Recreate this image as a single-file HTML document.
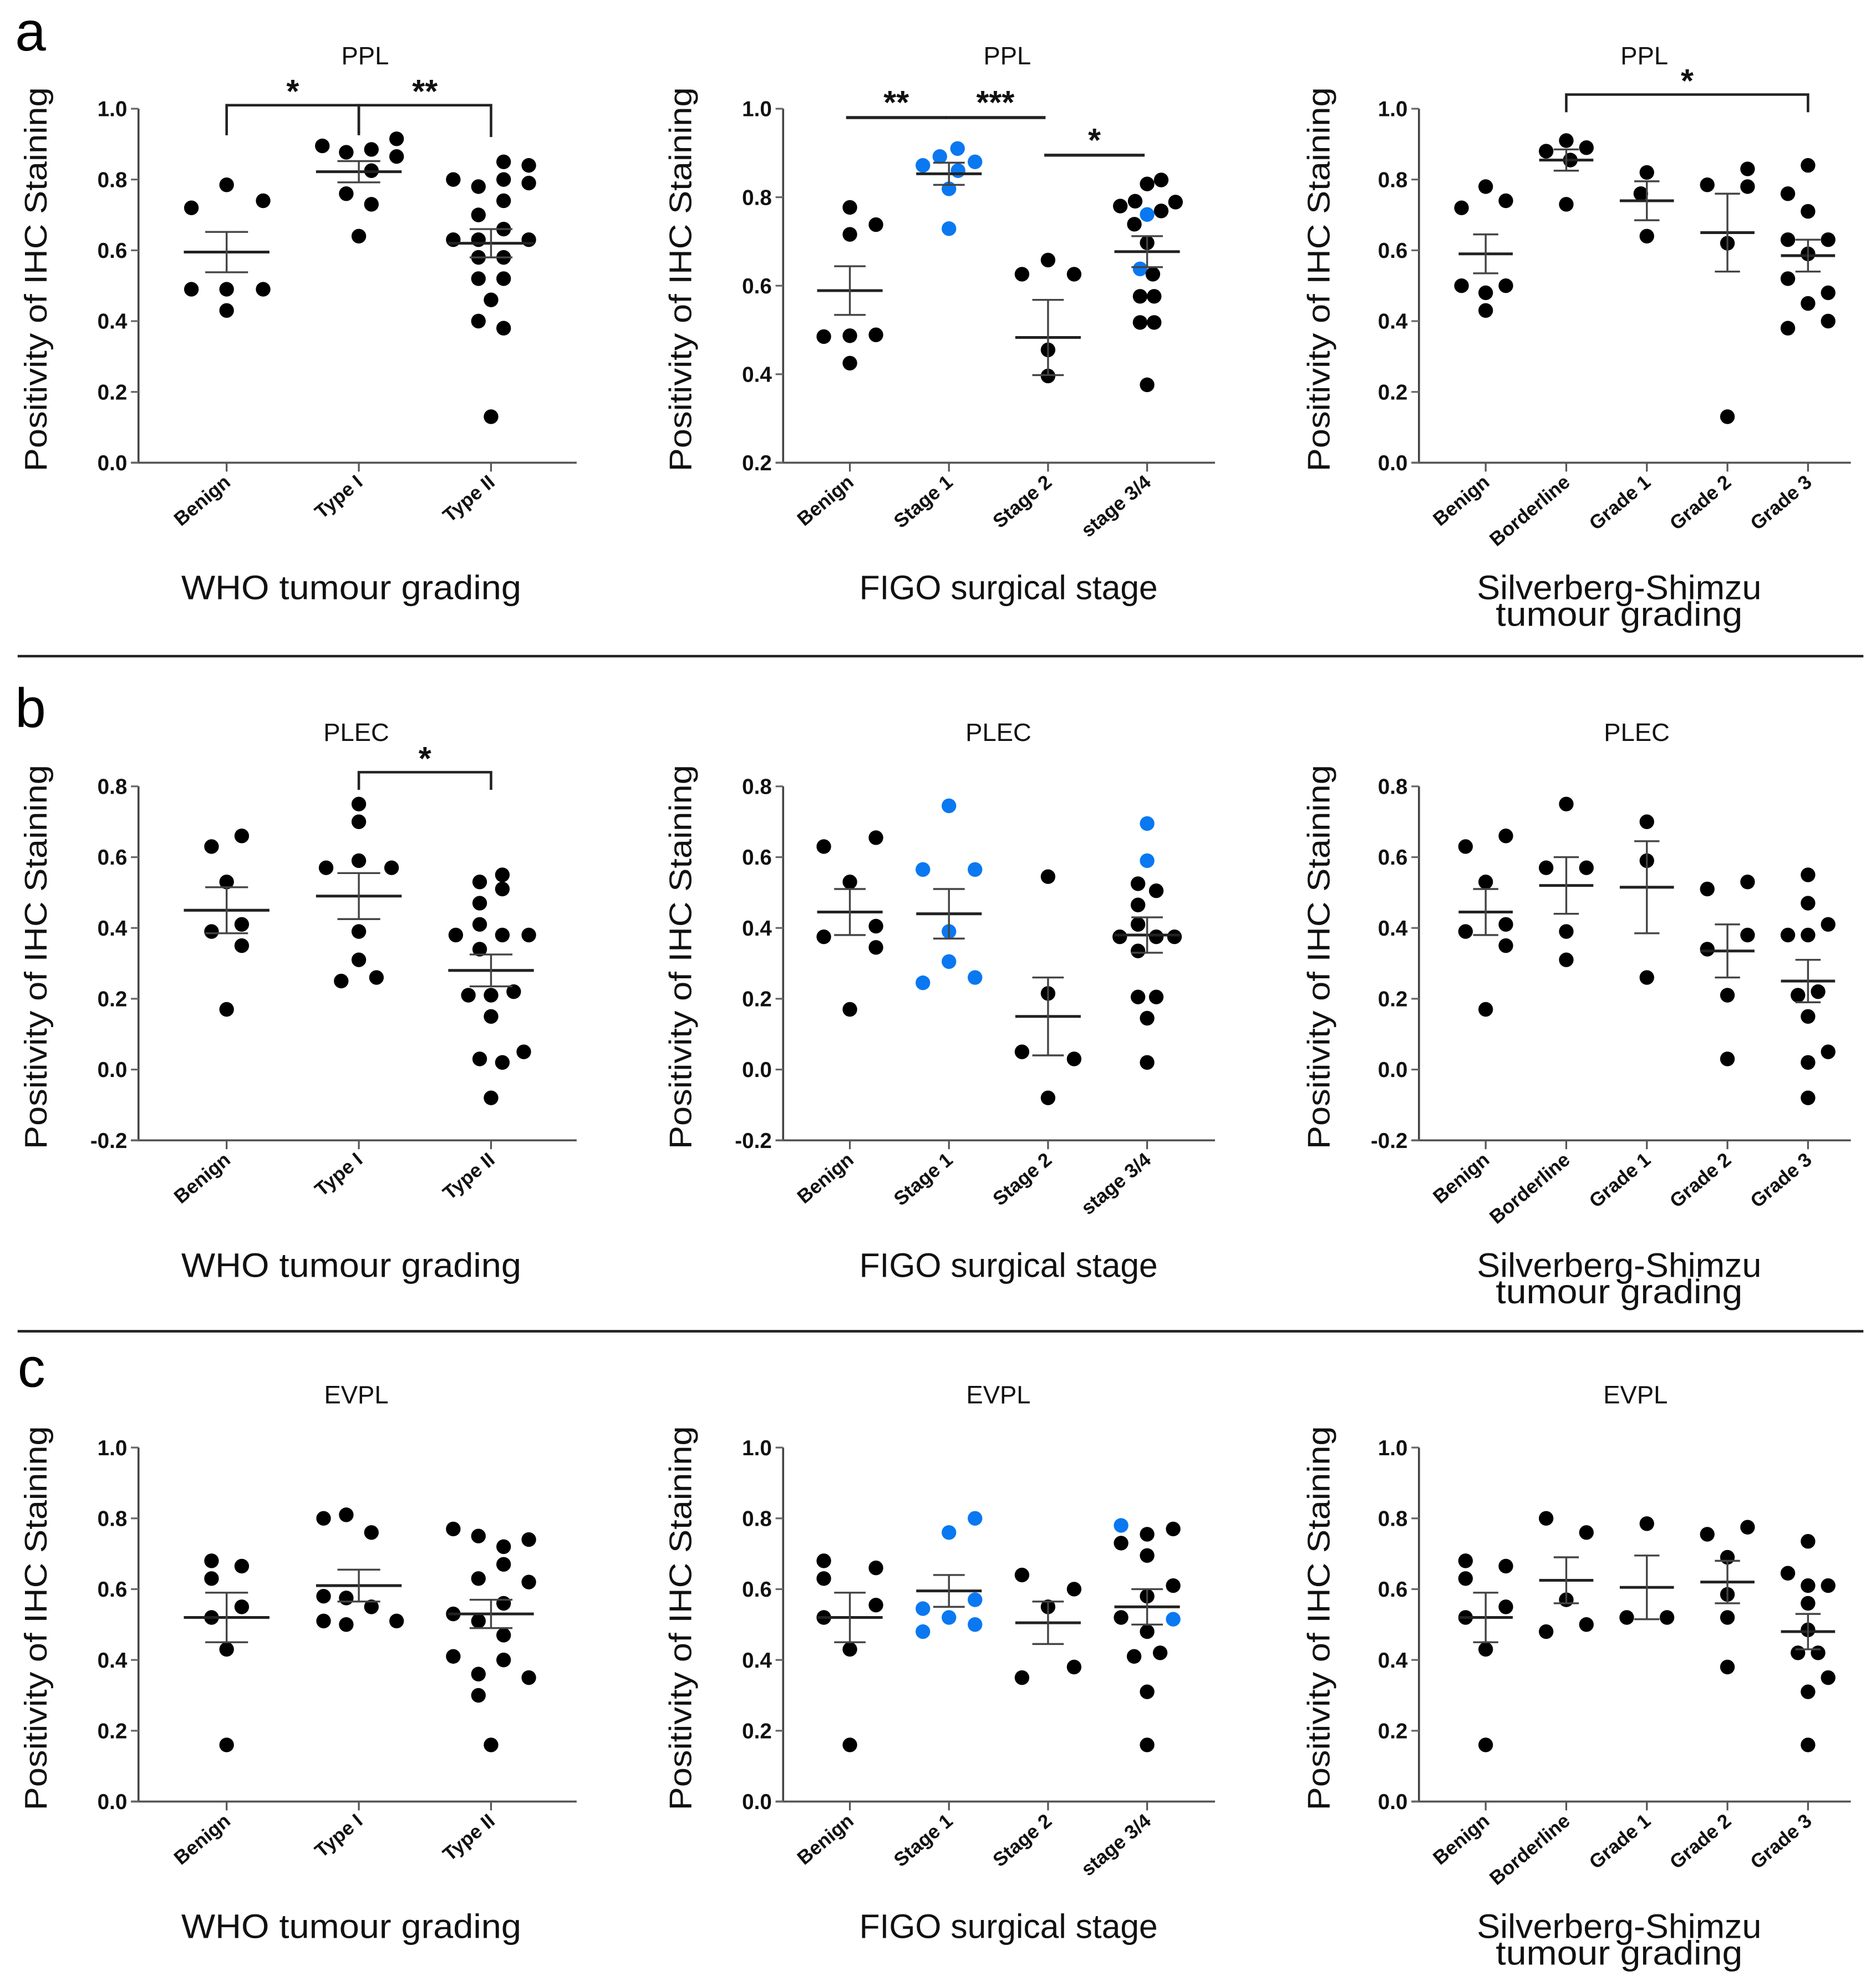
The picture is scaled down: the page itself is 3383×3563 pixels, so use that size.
<!DOCTYPE html>
<html><head><meta charset="utf-8"><style>
html,body{margin:0;padding:0;background:#fff;}
svg{display:block;}
text{font-family:"Liberation Sans",sans-serif;}
</style></head><body>
<svg id="fig" width="3383" height="3563" viewBox="0 0 1490 1563" preserveAspectRatio="none" xmlns="http://www.w3.org/2000/svg">
<rect width="1490" height="1563" fill="#fff"/>
<text x="12" y="40" font-size="44">a</text>
<text x="12" y="575" font-size="44">b</text>
<text x="14" y="1097" font-size="44">c</text>
<line x1="14" y1="519" x2="1480" y2="519" stroke="#222" stroke-width="2"/>
<line x1="14" y1="1053" x2="1480" y2="1053" stroke="#222" stroke-width="2"/>
<g id="plots"></g>
</svg>
<script>
const catWHO=["Benign","Type I","Type II"];
const catFIGO=["Benign","Stage 1","Stage 2","stage 3/4"];
const catSS=["Benign","Borderline","Grade 1","Grade 2","Grade 3"];
const ticks01=[0.0,0.2,0.4,0.6,0.8,1.0];
const ticks21=[0.2,0.4,0.6,0.8,1.0];
const ticksM8=[-0.2,0.0,0.2,0.4,0.6,0.8];

// Row a: PPL
const a1Vals=[[0.72,0.785,0.74,0.49,0.49,0.49,0.43],[0.895,0.877,0.885,0.915,0.865,0.825,0.76,0.73,0.64],[0.80,0.78,0.80,0.79,0.85,0.84,0.74,0.70,0.66,0.63,0.63,0.63,0.58,0.58,0.52,0.52,0.46,0.40,0.38,0.13]];
const a1Slots=[[-1.4,0,1.45,-1.4,0,1.45,0],[-1.45,-0.5,0.5,1.5,1.5,0.5,-0.5,0.5,0],[-1.5,-0.5,0.5,1.5,0.5,1.5,0.5,-0.5,0.5,-1.5,-0.5,1.5,-0.5,0.5,-0.5,0.5,0,-0.5,0.5,0]];
const a1Mean=[0.595,0.822,0.62];
const a1Sem=[0.057,0.03,0.04];
const a2Vals=[[0.777,0.738,0.716,0.485,0.487,0.489,0.425],[0.91,0.892,0.872,0.88,0.86,0.819,0.729],[0.658,0.626,0.626,0.455,0.396],[0.839,0.83,0.791,0.789,0.78,0.769,0.761,0.739,0.697,0.638,0.626,0.576,0.576,0.517,0.517,0.376]];
const a2Slots=[[0,1,0,-1,0,1,0],[0.33,-0.35,-1,1,0.35,0,0],[0,-1,1,0,0],[0.54,0,-0.46,1.09,-1.03,0.54,0,-0.49,0,-0.27,0.22,-0.27,0.27,-0.27,0.27,0]];
const a2Blue=[[],[1,1,1,1,1,1,1],[],[0,0,0,0,0,0,1,0,0,1,0,0,0,0,0,0]];
const a2Mean=[0.589,0.853,0.483,0.677];
const a2Sem=[0.055,0.025,0.085,0.035];
const a3Vals=[[0.72,0.78,0.74,0.50,0.48,0.50,0.43],[0.88,0.91,0.89,0.855,0.73],[0.82,0.76,0.64],[0.785,0.83,0.78,0.62,0.13],[0.84,0.76,0.71,0.63,0.63,0.59,0.52,0.48,0.45,0.40,0.38]];
const a3Slots=[[-1.2,0,1,-1.2,0,1,0],[-1,0,1,0.2,0],[0,-0.3,0],[-1,1,1,0,0],[0,-1,0,-1,1,0,-1,1,0,1,-1]];
const a3Mean=[0.59,0.855,0.74,0.65,0.585];
const a3Sem=[0.055,0.03,0.055,0.11,0.045];

// Row b: PLEC
const b1Vals=[[0.63,0.66,0.53,0.41,0.39,0.35,0.17],[0.75,0.70,0.59,0.57,0.57,0.39,0.31,0.25,0.26],[0.53,0.55,0.51,0.47,0.41,0.38,0.38,0.38,0.34,0.21,0.21,0.22,0.15,0.03,0.02,0.05,-0.08]];
const b1Slots=[[-0.6,0.6,0,0.6,-0.6,0.6,0],[0,0,0,-1.3,1.3,0,0,-0.7,0.7],[-0.45,0.45,0.45,-0.45,-0.45,-1.4,0.45,1.5,-0.45,-0.9,0,0.9,0,-0.45,0.45,1.3,0]];
const b1Mean=[0.45,0.49,0.28];
const b1Sem=[0.065,0.065,0.045];
const b2Vals=[[0.63,0.655,0.53,0.405,0.375,0.345,0.17],[0.745,0.565,0.565,0.39,0.305,0.26,0.245],[0.545,0.215,0.05,0.03,-0.08],[0.695,0.59,0.525,0.505,0.465,0.41,0.375,0.375,0.375,0.335,0.205,0.205,0.145,0.02]];
const b2Slots=[[-1,1,0,1,-1,1,0],[0,-1,1,0,0,1,-1],[0,0,-1,1,0],[0,0,-0.35,0.35,-0.35,-0.35,-1.05,0.35,1.05,-0.35,-0.35,0.35,0,0]];
const b2Blue=[[],[1,1,1,1,1,1,1],[],[1,1,0,0,0,0,0,0,0,0,0,0,0,0]];
const b2Mean=[0.445,0.44,0.15,0.38];
const b2Sem=[0.065,0.07,0.11,0.05];
const b3Vals=[[0.63,0.66,0.53,0.39,0.41,0.35,0.17],[0.75,0.57,0.57,0.39,0.31],[0.70,0.59,0.26],[0.51,0.53,0.38,0.34,0.21,0.03],[0.55,0.47,0.41,0.38,0.38,0.21,0.22,0.15,0.02,0.05,-0.08]];
const b3Slots=[[-1,1,0,-1,1,1,0],[0,-1,1,0,0],[0,0,0],[-1,1,1,-1,0,0],[0,0,1,-1,0,-0.5,0.5,0,0,1,0]];
const b3Mean=[0.445,0.52,0.515,0.335,0.25];
const b3Sem=[0.065,0.08,0.13,0.075,0.06];

// Row c: EVPL
const c1Vals=[[0.68,0.63,0.665,0.55,0.52,0.43,0.16],[0.80,0.81,0.76,0.58,0.575,0.55,0.51,0.50,0.51],[0.77,0.75,0.74,0.72,0.67,0.63,0.62,0.56,0.53,0.51,0.47,0.41,0.40,0.36,0.35,0.30,0.16]];
const c1Slots=[[-0.6,-0.6,0.6,0.6,-0.6,0,0],[-1.4,-0.5,0.5,-1.4,-0.5,0.5,-1.4,-0.5,1.5],[-1.5,-0.5,1.5,0.5,0.5,-0.5,1.5,0.5,-1.5,-0.5,0.5,-1.5,0.5,-0.5,1.5,-0.5,0]];
const c1Mean=[0.52,0.61,0.53];
const c1Sem=[0.07,0.045,0.04];
const c2Vals=[[0.68,0.66,0.63,0.555,0.52,0.43,0.16],[0.80,0.76,0.57,0.545,0.52,0.50,0.48],[0.64,0.60,0.55,0.38,0.35],[0.78,0.77,0.755,0.73,0.695,0.61,0.58,0.52,0.515,0.48,0.41,0.42,0.31,0.16]];
const c2Slots=[[-1,1,-1,1,-1,0,0],[1,0,1,-1,0,1,-1],[-1,1,0,1,-1],[-1,1,0,-1,0,1,0,-1,1,0,-0.5,0.5,0,0]];
const c2Blue=[[],[1,1,1,1,1,1,1],[],[1,0,0,0,0,0,0,0,1,0,0,0,0,0]];
const c2Mean=[0.52,0.595,0.505,0.55];
const c2Sem=[0.07,0.045,0.06,0.05];
const c3Vals=[[0.68,0.63,0.665,0.55,0.52,0.43,0.16],[0.80,0.76,0.57,0.48,0.50],[0.785,0.52,0.52],[0.755,0.775,0.69,0.585,0.52,0.38],[0.735,0.645,0.61,0.61,0.56,0.485,0.42,0.42,0.35,0.31,0.16]];
const c3Slots=[[-1,-1,1,1,-1,0,0],[-1,1,0,-1,1],[0,-1,1],[-1,1,0,0,0,0],[0,-1,0,1,0,0,-0.5,0.5,1,0,0]];
const c3Mean=[0.52,0.625,0.605,0.62,0.48];
const c3Sem=[0.07,0.065,0.09,0.06,0.05];

const NS="http://www.w3.org/2000/svg";
const root=document.getElementById('plots');
function mk(tag,attrs,parent){const e=document.createElementNS(NS,tag);for(const k in attrs)e.setAttribute(k,attrs[k]);(parent||root).appendChild(e);return e;}

const cols=[
 {x0:110,x1:458,first:180,step:105,slot:20,half:34,cap:17,ytx:28},
 {x0:622,x1:965,first:675,step:78.7,slot:20.7,half:26,cap:12.5,ytx:540},
 {x0:1127,x1:1470,first:1180,step:64,slot:16,half:21.5,cap:10,ytx:1047}
];
const rows=[{yTop:86,yBot:366,title:"PPL",ty:51},{yTop:622,yBot:902,title:"PLEC",ty:586},{yTop:1145,yBot:1425,title:"EVPL",ty:1110}];
const titleX=[[290,800,1306],[283,793,1300],[283,793,1299]];

const panels=[
 {r:0,c:0,cats:catWHO,ticks:ticks01,vmin:0,vmax:1,vals:a1Vals,slots:a1Slots,blue:null,mean:a1Mean,sem:a1Sem},
 {r:0,c:1,cats:catFIGO,ticks:ticks21,vmin:0.2,vmax:1,vals:a2Vals,slots:a2Slots,blue:a2Blue,mean:a2Mean,sem:a2Sem},
 {r:0,c:2,cats:catSS,ticks:ticks01,vmin:0,vmax:1,vals:a3Vals,slots:a3Slots,blue:null,mean:a3Mean,sem:a3Sem},
 {r:1,c:0,cats:catWHO,ticks:ticksM8,vmin:-0.2,vmax:0.8,vals:b1Vals,slots:b1Slots,blue:null,mean:b1Mean,sem:b1Sem},
 {r:1,c:1,cats:catFIGO,ticks:ticksM8,vmin:-0.2,vmax:0.8,vals:b2Vals,slots:b2Slots,blue:b2Blue,mean:b2Mean,sem:b2Sem},
 {r:1,c:2,cats:catSS,ticks:ticksM8,vmin:-0.2,vmax:0.8,vals:b3Vals,slots:b3Slots,blue:null,mean:b3Mean,sem:b3Sem},
 {r:2,c:0,cats:catWHO,ticks:ticks01,vmin:0,vmax:1,vals:c1Vals,slots:c1Slots,blue:null,mean:c1Mean,sem:c1Sem},
 {r:2,c:1,cats:catFIGO,ticks:ticks01,vmin:0,vmax:1,vals:c2Vals,slots:c2Slots,blue:c2Blue,mean:c2Mean,sem:c2Sem},
 {r:2,c:2,cats:catSS,ticks:ticks01,vmin:0,vmax:1,vals:c3Vals,slots:c3Slots,blue:null,mean:c3Mean,sem:c3Sem}
];
const brackets=[
 [0,0,1,1.01,0.925,0.925,"*"],
 [0,1,2,1.01,0.93,0.92,"**"],
 [2,1,4,1.04,0.99,0.99,"*"],
 [3,1,2,0.84,0.79,0.79,"*"]
];
const sigLines=[
 [1,0,1,0.98,"**"],
 [1,1,2,0.98,"***"],
 [1,2,3,0.895,"*"]
];

function geo(p){
 const C=cols[p.c],R=rows[p.r];
 return {C,R,
  y:v=>R.yBot-(v-p.vmin)/(p.vmax-p.vmin)*(R.yBot-R.yTop),
  x:i=>C.first+i*C.step};
}

panels.forEach((p,pi)=>{
 const {C,R,y,x}=geo(p);
 const g=mk('g',{});
 
 
 const t=mk('text',{x:titleX[p.r][p.c],y:R.ty,'font-size':20,'text-anchor':'middle',fill:'#111'},g);
 t.textContent=R.title;
 
 
 const ya=mk('line',{x1:C.x0,y1:y(p.ticks[p.ticks.length-1]),x2:C.x0,y2:R.yBot,stroke:'#444','stroke-width':1.6},g);
 
 
 const xa=mk('line',{x1:C.x0-6,y1:R.yBot,x2:C.x1,y2:R.yBot,stroke:'#555','stroke-width':1.6},g);
 
 
 p.ticks.forEach(v=>{
  mk('line',{x1:C.x0-6,y1:y(v),x2:C.x0,y2:y(v),stroke:'#666','stroke-width':1.4},g);
  const tl=mk('text',{x:C.x0-9,y:y(v)+6,'font-size':17,'font-weight':'bold','text-anchor':'end',fill:'#111'},g);
  tl.textContent=v.toFixed(1);
  
  
 });
 p.cats.forEach((c,i)=>{
  mk('line',{x1:x(i),y1:R.yBot,x2:x(i),y2:R.yBot+7,stroke:'#555','stroke-width':1.4},g);
  const cl=mk('text',{x:x(i)+4,y:R.yBot+17,'font-size':15.5,'font-weight':'bold','text-anchor':'end',fill:'#111',transform:'rotate(-40 '+(x(i)+4)+' '+(R.yBot+17)+')'},g);
  cl.textContent=c;
  
  
 });
 const cy=(R.yTop+R.yBot)/2-5;
 const yt=mk('text',{x:C.ytx,y:cy,'font-size':25,'text-anchor':'middle',fill:'#111',textLength:304,lengthAdjust:'spacingAndGlyphs',transform:'rotate(-90 '+C.ytx+' '+cy+')',dy:9},g);
 yt.textContent='Positivity of IHC Staining';
 
 
 const by=R.yBot+108;
 if(p.c===2){
  const a=mk('text',{x:1286,y:by,'font-size':27,'text-anchor':'middle',fill:'#111',textLength:226,lengthAdjust:'spacingAndGlyphs'},g);a.textContent='Silverberg-Shimzu';
  
  
  const b=mk('text',{x:1286,y:by+21,'font-size':27,'text-anchor':'middle',fill:'#111',textLength:196,lengthAdjust:'spacingAndGlyphs'},g);b.textContent='tumour grading';
  
  
 } else {
  const a=mk('text',{x:p.c===0?279:801,y:by,'font-size':27,'text-anchor':'middle',fill:'#111',textLength:p.c===0?270:237,lengthAdjust:'spacingAndGlyphs'},g);
  a.textContent=p.c===0?'WHO tumour grading':'FIGO surgical stage';
  
  
 }
 p.vals.forEach((grp,gi)=>{
  grp.forEach((v,k)=>{
   const isBlue=p.blue&&p.blue[gi]&&p.blue[gi][k];
   const d=mk('circle',{cx:x(gi)+p.slots[gi][k]*C.slot,cy:y(v),r:5.8,fill:isBlue?'#0a78f0':'#000'},g);
   
   
  });
  const m=p.mean[gi],s=p.sem[gi],cx=x(gi);
  const ml=mk('line',{x1:cx-C.half,y1:y(m),x2:cx+C.half,y2:y(m),stroke:'#222','stroke-width':2.2},g);
  
  
  const el=mk('path',{d:'M'+cx+' '+y(m+s)+'V'+y(m-s)+'M'+(cx-C.cap)+' '+y(m+s)+'H'+(cx+C.cap)+'M'+(cx-C.cap)+' '+y(m-s)+'H'+(cx+C.cap),stroke:'#444','stroke-width':1.5,fill:'none'},g);
  
  
 });
});

brackets.forEach(b=>{
 const p=panels[b[0]];const {y,x}=geo(p);
 const x1=x(b[1]),x2=x(b[2]);
 const pa=mk('path',{d:'M'+x1+' '+y(b[4])+'V'+y(b[3])+'H'+x2+'V'+y(b[5]),stroke:'#222','stroke-width':2,fill:'none'});
 
 
 const t=mk('text',{x:(x1+x2)/2,y:y(b[3])-2,'font-size':26,'font-weight':'bold','text-anchor':'middle',fill:'#111'});
 t.textContent=b[6];
 
 
});
sigLines.forEach(b=>{
 const p=panels[b[0]];const {y,x}=geo(p);
 const x1=x(b[1])-3,x2=x(b[2])-2;
 const ln=mk('line',{x1:x1,y1:y(b[3]),x2:x2,y2:y(b[3]),stroke:'#222','stroke-width':2.4});
 
 
 const t=mk('text',{x:(x1+x2)/2,y:y(b[3])-3,'font-size':26,'font-weight':'bold','text-anchor':'middle',fill:'#111'});
 t.textContent=b[4];
 
 
});
</script>
</body></html>
